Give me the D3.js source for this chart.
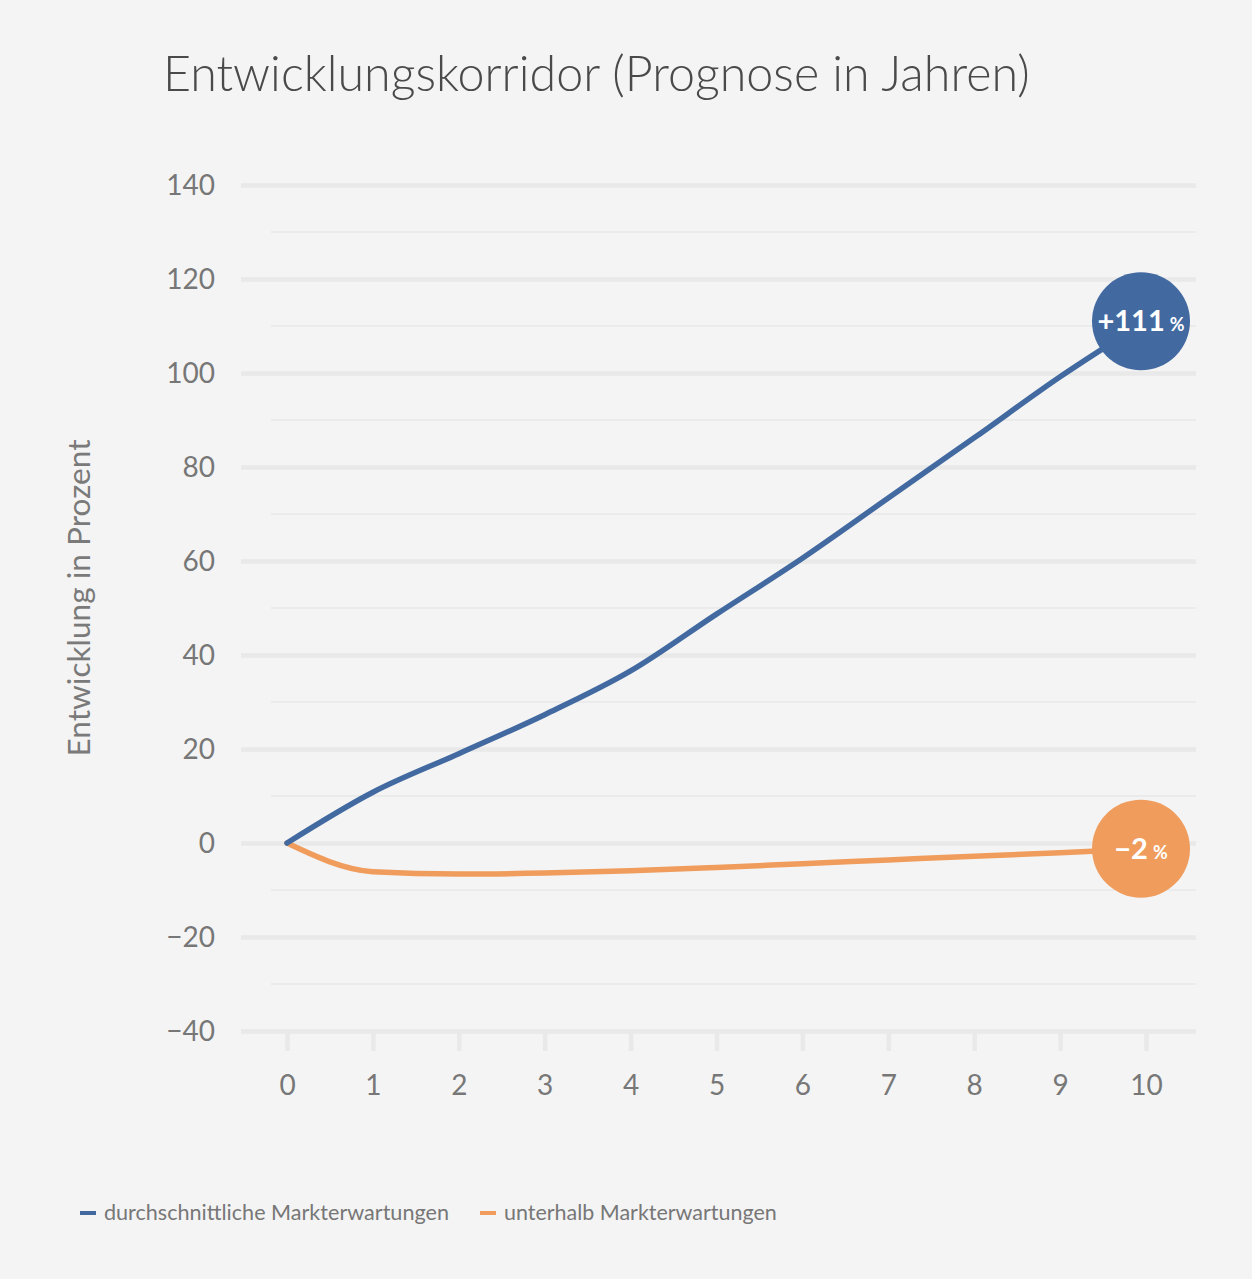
<!DOCTYPE html>
<html><head><meta charset="utf-8">
<script src="https://cdn.jsdelivr.net/npm/d3@7"></script>
<style>
html,body{margin:0;padding:0;background:#f4f4f4;}
svg{display:block;font-family:Lato,"Open Sans",sans-serif;}
</style></head><body>
<svg id="c" width="1252" height="1279"></svg>
<script>
const years = [0,1,2,3,4,5,6,7,8,9,10];
const avgSeries = [0,10.8,19,27.3,36.6,48.7,60.6,73.4,86.2,99.2,111];
const lowSeries = [0,-6.1,-6.6,-6.4,-5.9,-5.2,-4.4,-3.6,-2.8,-2.1,-1.2];
const seriesNames = ["durchschnittliche Markterwartungen","unterhalb Markterwartungen"];
const endLabels = ["+111","\u22122"];
const yMajorTicks = [-40,-20,0,20,40,60,80,100,120,140];
const yMinorTicks = [-30,-10,10,30,50,70,90,110,130];
const colors = ["#426aa1","#f09c5c"];

const svg = d3.select("#c");
svg.append("rect").attr("width",1252).attr("height",1279).attr("fill","#f4f4f4");

const x = d3.scaleLinear().domain([0,10]).range([287,1146]);
const y = d3.scaleLinear().domain([-40,140]).range([1031,185]);

function fitWidth(sel, w){
  const n = sel.node();
  const fs = parseFloat(sel.attr("font-size"));
  const l = n.getComputedTextLength();
  sel.attr("font-size", fs*w/l);
}

// title
const title = svg.append("text").attr("x",163).attr("y",91).attr("font-size",44)
  .attr("font-weight",300).attr("fill","#4a4a4a").text("Entwicklungskorridor (Prognose in Jahren)");
fitWidth(title, 867);

// minor grid
svg.append("g").selectAll("line").data(yMinorTicks).join("line")
  .attr("x1",271).attr("x2",1196).attr("y1",d=>y(d)).attr("y2",d=>y(d))
  .attr("stroke","#ebebeb").attr("stroke-width",1.8);

// major grid (y axis)
const yAxis = d3.axisLeft(y).tickValues(yMajorTicks).tickSize(0).tickPadding(26)
  .tickFormat(d => d<0 ? "\u2212"+Math.abs(d) : String(d));
const gy = svg.append("g").attr("transform","translate(241,0)").call(yAxis);
gy.select(".domain").remove();
gy.selectAll(".tick text").attr("font-size",28).attr("fill","#777").attr("font-family","Lato,sans-serif").attr("dy","0.35em");
gy.selectAll(".tick").append("line").attr("x1",0).attr("x2",955).attr("stroke","#e9e9e9").attr("stroke-width",4.5);

// x axis
const xAxis = d3.axisBottom(x).tickValues(years).tickSize(18).tickPadding(24).tickFormat(d3.format("d"));
const gx = svg.append("g").attr("transform","translate(0,1033)").call(xAxis);
gx.select(".domain").remove();
gx.selectAll(".tick line").attr("stroke","#e9e9e9").attr("stroke-width",4.5);
gx.selectAll(".tick text").attr("font-size",28).attr("fill","#777").attr("font-family","Lato,sans-serif");

// y axis title
const yt = svg.append("text").attr("transform","translate(90,598) rotate(-90)").attr("text-anchor","middle")
  .attr("font-size",27).attr("fill","#7a7a7a").text("Entwicklung in Prozent");
fitWidth(yt, 317);

// lines
const line = d3.line().x((d,i)=>x(years[i])).y(d=>y(d)).curve(d3.curveMonotoneX);
[lowSeries, avgSeries].forEach((s,k)=>{
  const ci = k===0?1:0;
  svg.append("path").attr("d",line(s)).attr("fill","none").attr("stroke",colors[ci])
    .attr("stroke-width",5.5).attr("stroke-linecap","round").attr("stroke-linejoin","round");
});

// end circles
[avgSeries, lowSeries].forEach((s,k)=>{
  const cx = x(years[years.length-1]) - 5, cy = y(s[s.length-1]);
  const g = svg.append("g");
  g.append("circle").attr("cx",cx).attr("cy",cy).attr("r",49).attr("fill",colors[k]);
  const t = g.append("text").attr("x",cx).attr("y",cy+10).attr("text-anchor","middle")
    .attr("fill","#fff").attr("font-weight",700);
  t.append("tspan").attr("font-size",29).text(endLabels[k]);
  t.append("tspan").attr("font-size",18).attr("dx",5).text("%");
});

// legend
const lg = svg.append("g");
const legX = [80,480];
seriesNames.forEach((n,i)=>{
  lg.append("rect").attr("x",legX[i]).attr("y",1211).attr("width",16).attr("height",4).attr("fill",colors[i]);
  const t = lg.append("text").attr("x",legX[i]+24).attr("y",1220).attr("font-size",20).attr("fill","#777").text(n);
  if(i===0) fitWidth(t, 345);
  else fitWidth(t, 273);
});
</script></body></html>
